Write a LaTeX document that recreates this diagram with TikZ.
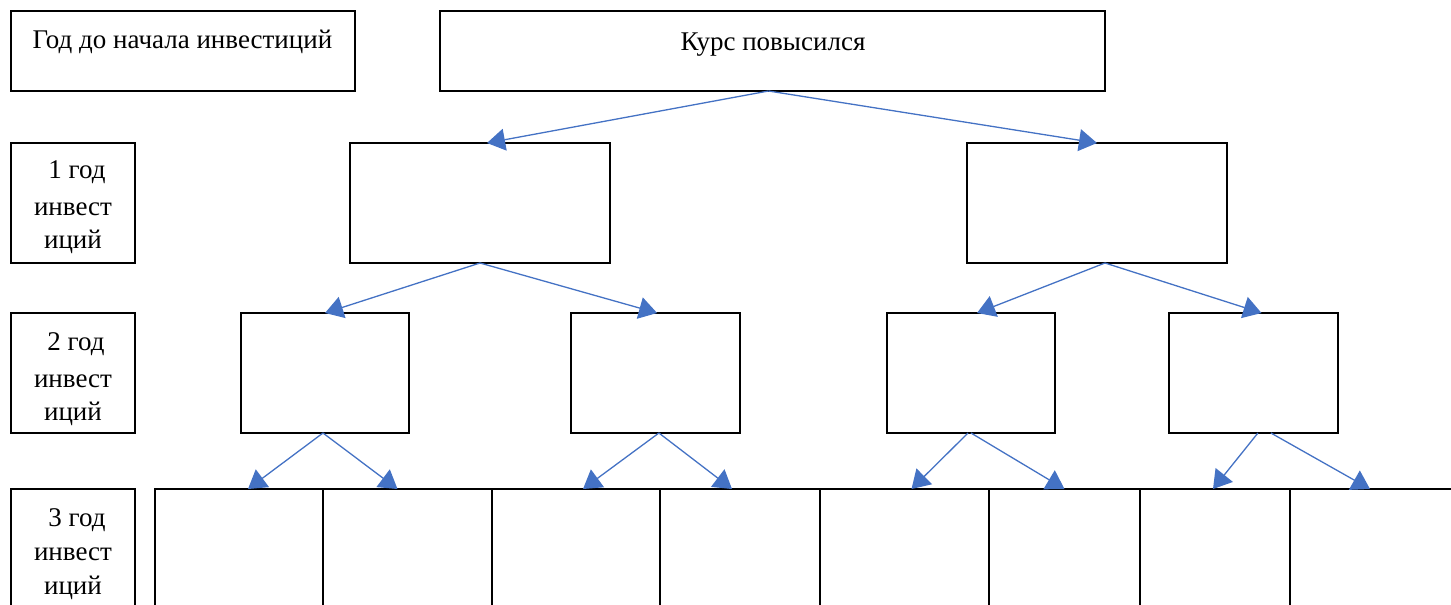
\documentclass[tikz,border=0pt]{standalone}
\usepackage{fontspec}
\setmainfont{Liberation Serif}
\usetikzlibrary{arrows.meta}
\definecolor{connblue}{RGB}{68,114,196}
\newcommand\mybox[5]{\node[box, minimum width={(#4-#2)*0.5pt}, minimum height={(#5-#3)*0.5pt}] (#1) at (#2,#3) {};}
\begin{document}
\begin{tikzpicture}[x=0.5pt,y=-0.5pt,
 box/.style={draw=black, line width=0.6pt, inner sep=0pt, outer sep=0pt, anchor=north west},
 conn/.style={draw=connblue, line width=0.65pt, -{Triangle[width=11pt,length=9pt]}},
 txt/.style={anchor=base, inner sep=0pt, font=\fontsize{13.5pt}{17.5pt}\selectfont}
]
\useasboundingbox (0,0) rectangle (1451,605);
\clip (0,0) rectangle (1451,605);
% label column
\mybox{lab0}{11}{11}{355}{91}
\mybox{lab1}{11}{143}{135}{263}
\mybox{lab2}{11}{313}{135}{433}
\mybox{lab3}{11}{489}{135}{660}
% tree
\mybox{top}{440}{11}{1105}{91}
\mybox{l1a}{350}{143}{610}{263}
\mybox{l1b}{967}{143}{1227}{263}
\mybox{l2a}{241}{313}{409}{433}
\mybox{l2b}{571}{313}{740}{433}
\mybox{l2c}{887}{313}{1055}{433}
\mybox{l2d}{1169}{313}{1338}{433}
\mybox{l3a}{155}{489}{323}{660}
\mybox{l3b}{323}{489}{492}{660}
\mybox{l3c}{492}{489}{660}{660}
\mybox{l3d}{660}{489}{820}{660}
\mybox{l3e}{820}{489}{989}{660}
\mybox{l3f}{989}{489}{1140}{660}
\mybox{l3g}{1140}{489}{1290}{660}
\mybox{l3h}{1290}{489}{1470}{660}
% texts
\node[txt] (t0) at (182.5,48) {Год до начала инвестиций};
\node[txt] (tk) at (773,50) {Курс повысился};
\node[txt] (t1a) at (77,178) {1 год};
\node[txt] (t1b) at (73,215) {инвест};
\node[txt] (t1c) at (73,248) {иций};
\node[txt] (t2a) at (76,350) {2 год};
\node[txt] (t2b) at (73,387) {инвест};
\node[txt] (t2c) at (73,420) {иций};
\node[txt] (t3a) at (77,526) {3 год};
\node[txt] (t3b) at (73,560) {инвест};
\node[txt] (t3c) at (73,594) {иций};
% connectors
\draw[conn] ([xshift=-2pt]top.south) -- ([xshift=3.5pt]l1a.north);
\draw[conn] ([xshift=-2pt]top.south) -- (l1b.north);
\draw[conn] (l1a.south) -- (l2a.north);
\draw[conn] (l1a.south) -- ([xshift=0.8pt]l2b.north);
\draw[conn] ([xshift=4pt]l1b.south) -- ([xshift=3pt]l2c.north);
\draw[conn] ([xshift=4pt]l1b.south) -- ([xshift=4pt]l2d.north);
\draw[conn] ([xshift=-1pt]l2a.south) -- ([xshift=4.5pt]l3a.north);
\draw[conn] ([xshift=-1pt]l2a.south) -- ([xshift=-5pt]l3b.north);
\draw[conn] ([xshift=1.7pt]l2b.south) -- ([xshift=3.5pt]l3c.north);
\draw[conn] ([xshift=1.7pt]l2b.south) -- ([xshift=-4pt]l3d.north);
\draw[conn] ([xshift=-1.5pt]l2c.south) -- ([xshift=3.5pt]l3e.north);
\draw[conn] (l2c.south) -- (l3f.north);
\draw[conn] ([xshift=2.2pt]l2d.south) -- ([xshift=-1pt]l3g.north);
\draw[conn] ([xshift=8.7pt]l2d.south) -- ([xshift=-5pt]l3h.north);
\end{tikzpicture}
\end{document}
